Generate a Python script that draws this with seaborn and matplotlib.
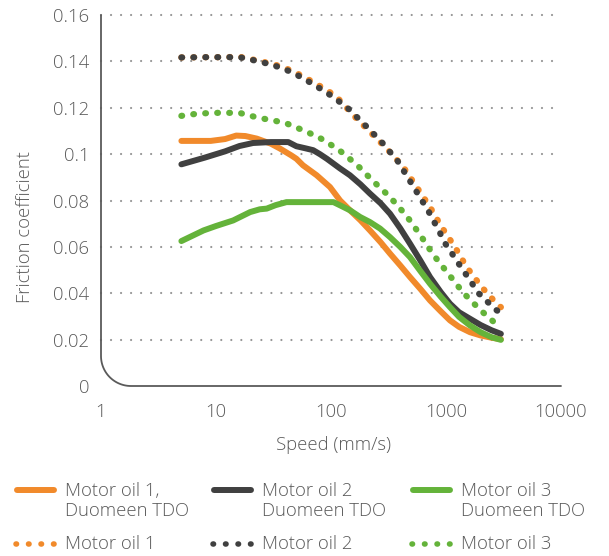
import numpy as np
import pandas as pd
import matplotlib
matplotlib.use("Agg")
import matplotlib.pyplot as plt
from matplotlib.lines import Line2D
import seaborn as sns

# ---------------- data ----------------
x_oil1_tdo = [5, 9, 12, 15, 18, 22.6, 30, 36, 45, 50, 57, 75, 98, 120, 146, 180, 218, 270,
              326, 400, 486, 600, 726, 900, 1083, 1300, 1617, 2000, 2500, 3000]
y_oil1_tdo = [0.1057, 0.1057, 0.1065, 0.1080, 0.1078, 0.1067, 0.1045, 0.1024, 0.0995, 0.0980,
              0.0952, 0.0909, 0.0858, 0.0800, 0.0758, 0.0715, 0.0671, 0.0620, 0.0571, 0.0520,
              0.0470, 0.0418, 0.0369, 0.0322, 0.0283, 0.0255, 0.0232, 0.0218, 0.0208, 0.0202]

x_oil2_tdo = [5, 8, 12, 16, 21, 30, 42.5, 50, 60, 70, 80, 92, 120, 146, 180, 218, 270, 326,
              400, 486, 600, 726, 900, 1083, 1300, 1617, 2000, 2500, 3000]
y_oil2_tdo = [0.0956, 0.0985, 0.1012, 0.1035, 0.1048, 0.1052, 0.1052, 0.1034, 0.1025, 0.1017,
              0.1000, 0.0980, 0.0938, 0.0909, 0.0870, 0.0830, 0.0788, 0.0743, 0.0680, 0.0614,
              0.0540, 0.0470, 0.0405, 0.0355, 0.0318, 0.0290, 0.0263, 0.0240, 0.0225]

x_oil3_tdo = [5, 7.8, 10, 14.1, 19.8, 24, 27.6, 33, 41, 60, 105, 120, 146, 179, 218, 267,
              326, 400, 486, 600, 726, 900, 1083, 1300, 1617, 2000, 2500, 3000]
y_oil3_tdo = [0.0625, 0.0671, 0.0690, 0.0714, 0.0750, 0.0762, 0.0765, 0.0780, 0.0793, 0.0793,
              0.0793, 0.0779, 0.0758, 0.0729, 0.0707, 0.0679, 0.0642, 0.0600, 0.0556, 0.0495,
              0.0441, 0.0385, 0.0340, 0.0298, 0.0261, 0.0232, 0.0210, 0.0199]

x_oil1 = [5, 8, 12, 16, 20, 25.8, 33, 41, 50, 61.5, 75, 92, 112, 156, 218, 305, 425, 556,
          726, 916, 1197, 1513, 2042, 2760, 3000]
y_oil1 = [0.1417, 0.1418, 0.1418, 0.1420, 0.1410, 0.1398, 0.1385, 0.1369, 0.1350, 0.1326,
          0.1302, 0.1276, 0.1247, 0.1168, 0.1096, 0.1024, 0.0945, 0.0858, 0.0772, 0.0686,
          0.0599, 0.0513, 0.0427, 0.0355, 0.0340]

x_oil2 = [5, 8, 12, 16, 20, 25.8, 33, 41, 50, 61.5, 75, 92, 112, 141, 198, 276, 380, 486,
          702, 887, 980, 1122, 1280, 1672, 1910, 2710, 3000]
y_oil2 = [0.1417, 0.1418, 0.1418, 0.1418, 0.1408, 0.1395, 0.1380, 0.1363, 0.1343, 0.1318,
          0.1292, 0.1265, 0.1235, 0.1197, 0.1125, 0.1052, 0.0970, 0.0884, 0.0755, 0.0660,
          0.0616, 0.0573, 0.0530, 0.0445, 0.0401, 0.0329, 0.0315]

x_oil3 = [5, 7, 10, 12.4, 16, 20, 25.8, 33, 39.8, 50, 77.6, 116, 167, 233, 326, 455, 594,
          776, 1047, 1413, 1976, 2820, 3000]
y_oil3 = [0.1165, 0.1175, 0.1178, 0.1178, 0.1178, 0.1165, 0.1153, 0.1143, 0.1135, 0.1115,
          0.1074, 0.1020, 0.0955, 0.0883, 0.0815, 0.0733, 0.0653, 0.0566, 0.0484, 0.0402,
          0.0329, 0.0261, 0.0252]

series_labels = ["Motor oil 1,\nDuomeen TDO", "Motor oil 2\nDuomeen TDO", "Motor oil 3\nDuomeen TDO",
                 "Motor oil 1", "Motor oil 2", "Motor oil 3"]

y_ticks = [0, 0.02, 0.04, 0.06, 0.08, 0.1, 0.12, 0.14, 0.16]
y_tick_labels = ["0", "0.02", "0.04", "0.06", "0.08", "0.1", "0.12", "0.14", "0.16"]
x_ticks = [1, 10, 100, 1000, 10000]
x_tick_labels = ["1", "10", "100", "1000", "10000"]

# ---------------- style ----------------
sns.set_style("white")
plt.rcParams["font.family"] = ["Open Sans", "DejaVu Sans"]
plt.rcParams["font.weight"] = "light"
TXT = "#595959"
ORANGE = "#F18A2B"
DARK = "#404040"
GREEN = "#64B33A"

W, H = 609, 556
fig = plt.figure(figsize=(W / 100, H / 100), dpi=100)
ax = fig.add_axes([101 / W, 1 - 386 / H, 460 / W, 371 / H])

FS = 13.3
SOLID_LW = 4.3
DOT_LW = 4.5
DOT_DASH = (0, (0.12, 1.8))

solid = [(x_oil1_tdo, y_oil1_tdo, ORANGE), (x_oil2_tdo, y_oil2_tdo, DARK), (x_oil3_tdo, y_oil3_tdo, GREEN)]
dotted = [(x_oil1, y_oil1, ORANGE), (x_oil2, y_oil2, DARK), (x_oil3, y_oil3, GREEN)]

order = [solid[0], dotted[0], solid[1], dotted[1], solid[2], dotted[2]]
kinds = ["s", "d", "s", "d", "s", "d"]
for (xs, ys, c), k in zip(order, kinds):
    df = pd.DataFrame({"x": xs, "y": ys})
    sns.lineplot(data=df, x="x", y="y", ax=ax, color=c, estimator=None, sort=False,
                 linewidth=SOLID_LW if k == "s" else DOT_LW, legend=False)
    ln = ax.lines[-1]
    ln.set_solid_capstyle("round")
    ln.set_solid_joinstyle("round")
    if k == "d":
        ln.set_linestyle(DOT_DASH)
        ln.set_dash_capstyle("round")
    ln.set_zorder(3)

ax.set_xscale("log")
ax.set_xlim(1, 10000)
ax.set_ylim(0, 0.16)
ax.set_xticks(x_ticks)
ax.set_xticklabels(x_tick_labels)
ax.set_yticks(y_ticks)
ax.set_yticklabels(y_tick_labels)
ax.xaxis.set_minor_locator(matplotlib.ticker.NullLocator())
ax.tick_params(axis="x", length=0, pad=12.5, labelsize=FS, labelcolor=TXT)
ax.tick_params(axis="y", length=0, pad=8.5, labelsize=FS, labelcolor=TXT)
ax.set_xlabel("")
ax.set_ylabel("")

# dotted horizontal gridlines (not at 0)
ax.grid(False)
for yv in y_ticks[1:]:
    ax.axhline(yv, color="#959595", lw=1.6, linestyle=(0, (0.01, 4.5)),
               dash_capstyle="round", zorder=1, clip_on=False)

for s in ax.spines.values():
    s.set_visible(False)

# left + bottom border with rounded corner
r_px = 30
rx = r_px / 460
ry = r_px / 371
t = np.linspace(0, np.pi / 2, 30)
px = np.concatenate([[0, 0], rx * (1 - np.cos(t)), [1]])
py = np.concatenate([[1, ry], ry * (1 - np.sin(t)), [0]])
ax.plot(px, py, transform=ax.transAxes, color="#5a5a5a", lw=1.3, clip_on=False, zorder=2)

# axis titles
fig.text(333 / W, 1 - 445 / H, "Speed (mm/s)", ha="center", va="center", fontsize=FS, color=TXT)
fig.text(25 / W, 1 - 227 / H, "Friction coefficient", ha="center", va="center",
         rotation=90, fontsize=FS, color=TXT)

# legend (manual, 2 rows x 3 columns)
col_handle_x = [13.5, 210.5, 409.5]
handle_len = 43
text_gap = 8.5
row_y = [490, 544]
colors = [ORANGE, DARK, GREEN]
for i, c in enumerate(colors):
    x0 = col_handle_x[i]
    fig.add_artist(Line2D([(x0 + 3) / W, (x0 + handle_len - 3) / W], [1 - row_y[0] / H] * 2,
                          color=c, lw=SOLID_LW, solid_capstyle="round"))
    fig.text((x0 + handle_len + text_gap) / W, 1 - (row_y[0] + 11) / H, series_labels[i],
             ha="left", va="center", fontsize=FS, color=TXT, linespacing=1.2)
    fig.add_artist(Line2D([(x0 + 2.5) / W, (x0 + handle_len - 1) / W], [1 - row_y[1] / H] * 2,
                          color=c, lw=DOT_LW - 0.5, linestyle=(0, (0.1, 2.15)), dash_capstyle="round"))
    fig.text((x0 + handle_len + text_gap) / W, 1 - row_y[1] / H, series_labels[3 + i],
             ha="left", va="center", fontsize=FS, color=TXT)

fig.savefig("out.png", dpi=100)
